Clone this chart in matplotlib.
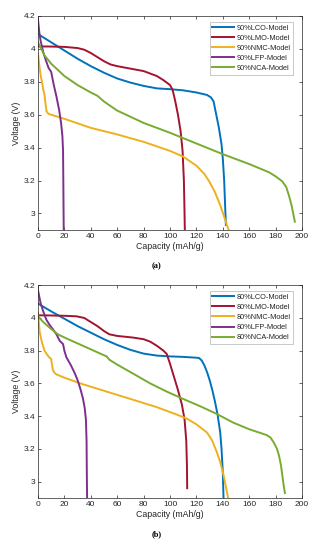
import matplotlib

matplotlib.use("Agg")
import matplotlib.pyplot as plt  # noqa: E402
from matplotlib.ticker import FuncFormatter  # noqa: E402

plt.rcParams["font.family"] = ["Liberation Sans", "DejaVu Sans"]

# MATLAB default line colours
colors = {"LCO": "#0072BD", "LMO": "#A2142F", "NMC": "#EDB120", "LFP": "#7E2F8E", "NCA": "#77AC30"}
chemistries = ["LCO", "LMO", "NMC", "LFP", "NCA"]

# panel (a): 90% models, (capacity mAh/g, voltage V)
a_lco_cap = [0, 10, 20, 30, 40, 50, 60, 70, 80, 90, 100, 110, 120, 128, 131, 133, 135, 137, 139, 140, 141, 141.7, 142.3]
a_lco_v = [4.09, 4.04, 3.99, 3.94, 3.895, 3.855, 3.82, 3.795, 3.775, 3.76, 3.755, 3.748, 3.735, 3.72, 3.705, 3.68,
           3.6, 3.52, 3.42, 3.33, 3.2, 3.05, 2.93]
a_lmo_cap = [0, 10, 20, 30, 35, 40, 45, 50, 55, 60, 70, 80, 90, 95, 100, 102, 104, 106, 108, 109.5, 110.5, 111, 111.2]
a_lmo_v = [4.015, 4.014, 4.012, 4.005, 3.995, 3.975, 3.95, 3.925, 3.905, 3.895, 3.88, 3.865, 3.835, 3.81, 3.78,
           3.75, 3.68, 3.6, 3.5, 3.38, 3.2, 3.0, 2.9]
a_nmc_cap = [0, 1, 2, 3, 4.3, 4.8, 5.5, 6.5, 8, 12, 20, 40, 60, 80, 100, 110, 120, 126, 130, 134, 138, 141, 143, 144.5]
a_nmc_v = [3.97, 3.9, 3.84, 3.8, 3.74, 3.73, 3.68, 3.62, 3.605, 3.595, 3.575, 3.52, 3.48, 3.435, 3.38, 3.345, 3.29,
           3.24, 3.19, 3.13, 3.05, 2.98, 2.93, 2.9]
a_lfp_cap = [0, 1, 2, 4, 6, 8, 10, 12, 14, 16, 17.5, 18.5, 19, 19.2, 19.4, 19.5]
a_lfp_v = [4.18, 4.1, 4.05, 3.98, 3.93, 3.885, 3.86, 3.78, 3.71, 3.63, 3.55, 3.47, 3.38, 3.2, 3.0, 2.9]
a_nca_cap = [0, 5, 10, 20, 30, 40, 45, 50, 60, 80, 100, 120, 140, 160, 175, 180, 185, 188, 190, 192, 193.5, 194.5]
a_nca_v = [4.04, 3.96, 3.91, 3.835, 3.78, 3.735, 3.715, 3.68, 3.625, 3.55, 3.49, 3.425, 3.36, 3.3, 3.25, 3.225,
           3.195, 3.16, 3.11, 3.05, 2.99, 2.95]

# panel (b): 80% models
b_lco_cap = [0, 10, 20, 30, 40, 50, 60, 70, 80, 90, 100, 110, 120, 122, 124, 126, 128, 130, 132, 134, 136, 138, 139,
             140, 140.5]
b_lco_v = [4.088, 4.04, 3.995, 3.95, 3.91, 3.87, 3.835, 3.805, 3.782, 3.77, 3.765, 3.762, 3.757, 3.755, 3.74, 3.71,
           3.67, 3.62, 3.56, 3.49, 3.41, 3.3, 3.2, 3.05, 2.9]
b_lmo_cap = [0, 10, 20, 29, 35, 39, 45, 50, 54, 60, 72, 80, 85, 90, 95, 97.5, 100, 103, 106, 109, 111, 112.3, 112.8,
             113]
b_lmo_v = [4.016, 4.015, 4.013, 4.01, 4.0, 3.98, 3.95, 3.92, 3.9, 3.89, 3.88, 3.87, 3.855, 3.83, 3.8, 3.78, 3.72,
           3.64, 3.56, 3.47, 3.38, 3.25, 3.1, 2.96]
b_nmc_cap = [0, 1.3, 3, 5, 7, 9, 10, 10.5, 11.4, 12.5, 14, 20, 34, 50, 72, 90, 105, 112.7, 120, 128, 132, 135.4, 138,
             140.5, 142.5, 144]
b_nmc_v = [4.03, 3.915, 3.85, 3.8, 3.775, 3.755, 3.75, 3.72, 3.68, 3.665, 3.655, 3.635, 3.595, 3.555, 3.5, 3.455,
           3.41, 3.385, 3.35, 3.3, 3.25, 3.18, 3.12, 3.04, 2.96, 2.9]
b_lfp_cap = [0, 2, 4, 6.3, 9, 11.4, 14, 16.5, 19, 20, 21.5, 25, 28, 30, 32, 34, 35.4, 36.3, 36.8, 37, 37.2]
b_lfp_v = [4.17, 4.09, 4.04, 3.99, 3.955, 3.93, 3.9, 3.86, 3.84, 3.8, 3.76, 3.71, 3.66, 3.62, 3.57, 3.51, 3.45, 3.38,
           3.25, 3.05, 2.9]
b_nca_cap = [0, 4, 8.9, 15, 21.5, 34, 45, 52, 54, 60, 72, 85, 97.5, 110, 123, 135, 148, 160, 173, 176, 178.5, 181,
             182.5, 184, 185, 186, 187]
b_nca_v = [4.01, 3.975, 3.94, 3.9, 3.875, 3.83, 3.79, 3.765, 3.745, 3.715, 3.66, 3.6, 3.55, 3.505, 3.46, 3.415,
           3.36, 3.32, 3.285, 3.27, 3.24, 3.2, 3.16, 3.1, 3.04, 2.98, 2.93]

panel_a = {"LCO": (a_lco_cap, a_lco_v), "LMO": (a_lmo_cap, a_lmo_v), "NMC": (a_nmc_cap, a_nmc_v),
           "LFP": (a_lfp_cap, a_lfp_v), "NCA": (a_nca_cap, a_nca_v)}
panel_b = {"LCO": (b_lco_cap, b_lco_v), "LMO": (b_lmo_cap, b_lmo_v), "NMC": (b_nmc_cap, b_nmc_v),
           "LFP": (b_lfp_cap, b_lfp_v), "NCA": (b_nca_cap, b_nca_v)}

x_ticks = list(range(0, 201, 20))
y_ticks = [3.0, 3.2, 3.4, 3.6, 3.8, 4.0, 4.2]
axis_grey = "#262626"


def draw_panel(ax, curves, prefix, caption):
    """Draw one discharge-curve panel in MATLAB style."""
    for name in chemistries:
        cap, volt = curves[name]
        ax.plot(cap, volt, color=colors[name], lw=1.4, label=f"{prefix}{name}-Model")
    ax.set_xlim(0, 200)
    ax.set_ylim(2.9, 4.2)
    ax.set_xticks(x_ticks)
    ax.set_yticks(y_ticks)
    ax.yaxis.set_major_formatter(FuncFormatter(lambda v, _: f"{v:g}"))
    ax.tick_params(direction="in", length=2.5, width=0.5, labelsize=6.0, colors=axis_grey,
                   top=True, right=True, pad=2)
    for spine in ax.spines.values():
        spine.set_linewidth(0.5)
        spine.set_color(axis_grey)
    ax.set_xlabel("Capacity (mAh/g)", fontsize=6.3, color=axis_grey, labelpad=1.5)
    ax.set_ylabel("Voltage (V)", fontsize=6.3, color=axis_grey, labelpad=2)
    leg = ax.legend(loc="upper right", bbox_to_anchor=(0.966, 0.972), fontsize=5.3, frameon=True,
                    fancybox=False, handlelength=3.0, handletextpad=0.3, borderpad=0.35,
                    labelspacing=0.4, borderaxespad=0)
    leg.get_frame().set_edgecolor("#a0a0a0")
    leg.get_frame().set_linewidth(0.5)
    for text in leg.get_texts():
        text.set_color(axis_grey)
    ax.text(0.45, -0.15, caption, transform=ax.transAxes, ha="center", va="top", fontsize=6,
            fontweight="bold", family="Liberation Serif")


fig = plt.figure(figsize=(3.19, 5.5), dpi=100)
ax_a = fig.add_axes([0.119, 0.582, 0.828, 0.389])
ax_b = fig.add_axes([0.119, 0.0945, 0.828, 0.387])
draw_panel(ax_a, panel_a, "90%", "(a)")
draw_panel(ax_b, panel_b, "80%", "(b)")
fig.savefig("out.png", dpi=100)
plt.close(fig)
